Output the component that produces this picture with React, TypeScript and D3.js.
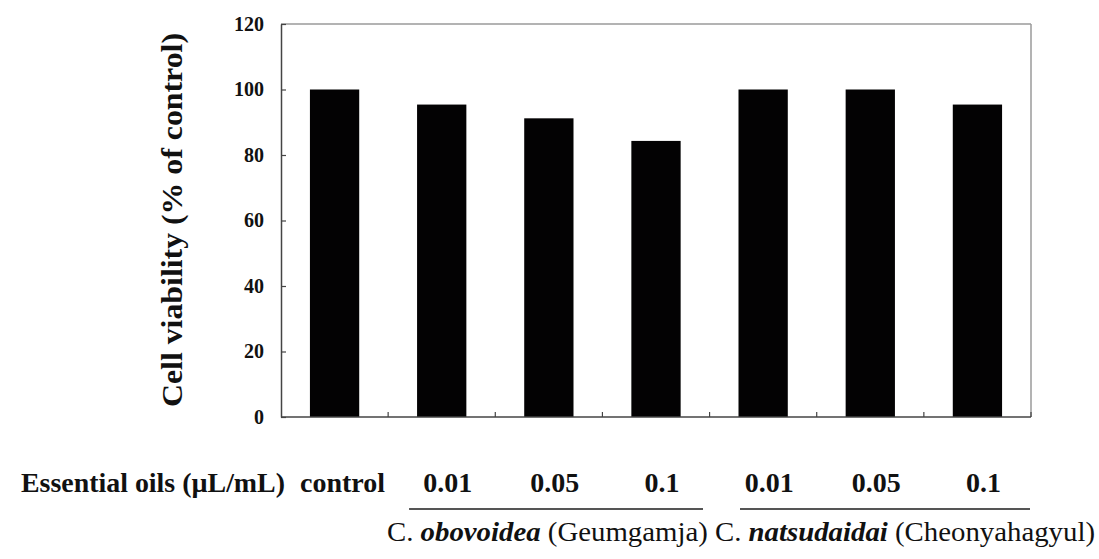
import { useEffect, useRef } from "react";
import * as d3 from "d3";

// Bar labels (concentration) and viability values
const groups = ["control", "Geumgamja 0.01", "Geumgamja 0.05", "Geumgamja 0.1", "Cheonyahagyul 0.01", "Cheonyahagyul 0.05", "Cheonyahagyul 0.1"];
const doseLabels = ["control", "0.01", "0.05", "0.1", "0.01", "0.05", "0.1"];
const viability = [100, 95.4, 91.2, 84.3, 100, 100, 95.4];
const yTicks = [0, 20, 40, 60, 80, 100, 120];

export default function App() {
  const ref = useRef<SVGSVGElement>(null);

  useEffect(() => {
    const svg = d3.select(ref.current);
    svg.selectAll("*").remove();

    const serif = "'Liberation Serif', 'Times New Roman', serif";
    const left = 281;
    const right = 1031;
    const top = 24;
    const bottom = 417;

    const x = d3.scaleBand().domain(groups).range([left, right]).paddingInner(0.54).paddingOuter(0.27);
    const band = d3.scaleBand().domain(groups).range([left, right]);
    const y = d3.scaleLinear().domain([0, 120]).range([bottom, top]);

    // frame: top/right lighter
    svg.append("line").attr("x1", left).attr("x2", right).attr("y1", top).attr("y2", top).attr("stroke", "#9a9a9a").attr("stroke-width", 1.5);
    svg.append("line").attr("x1", right).attr("x2", right).attr("y1", top).attr("y2", bottom).attr("stroke", "#9a9a9a").attr("stroke-width", 1.5);

    // bars
    svg
      .selectAll(".bar")
      .data(viability)
      .enter()
      .append("rect")
      .attr("class", "bar")
      .attr("x", (d, i) => x(groups[i])!)
      .attr("y", (d) => y(d))
      .attr("width", x.bandwidth())
      .attr("height", (d) => bottom - y(d))
      .attr("fill", "#030203");

    // y axis
    const yAxis = svg
      .append("g")
      .attr("transform", `translate(${left},0)`)
      .call(d3.axisLeft(y).tickValues(yTicks).tickSizeInner(-5).tickSizeOuter(0).tickPadding(17));
    yAxis.select(".domain").attr("stroke", "#444").attr("stroke-width", 1.5);
    yAxis.selectAll(".tick line").attr("stroke", "#444").attr("stroke-width", 1.2);
    yAxis
      .selectAll(".tick text")
      .attr("font-family", serif)
      .attr("font-weight", "bold")
      .attr("font-size", 20)
      .attr("fill", "#111");

    // x axis with ticks at band boundaries
    const bounds = groups.slice(1).map((g) => band(g)!).concat([right]);
    svg.append("line").attr("x1", left).attr("x2", right).attr("y1", bottom).attr("y2", bottom).attr("stroke", "#444").attr("stroke-width", 1.5);
    svg
      .selectAll(".xtick")
      .data(bounds)
      .enter()
      .append("line")
      .attr("x1", (d) => d)
      .attr("x2", (d) => d)
      .attr("y1", bottom)
      .attr("y2", bottom - 5)
      .attr("stroke", "#444")
      .attr("stroke-width", 1.2);

    // y title
    svg
      .append("text")
      .attr("transform", `translate(182,${(33 + 407) / 2}) rotate(-90)`)
      .attr("text-anchor", "middle")
      .attr("font-family", serif)
      .attr("font-weight", "bold")
      .attr("font-size", 29)
      .attr("textLength", 374)
      .attr("lengthAdjust", "spacingAndGlyphs")
      .attr("fill", "#111")
      .text("Cell viability  (% of control)");

    // row label + dose labels
    svg
      .append("text")
      .attr("x", 21)
      .attr("y", 492)
      .attr("font-family", serif)
      .attr("font-weight", "bold")
      .attr("font-size", 28)
      .attr("textLength", 264)
      .attr("lengthAdjust", "spacingAndGlyphs")
      .attr("fill", "#111")
      .text("Essential oils (µL/mL)");

    svg
      .selectAll(".dose")
      .data(doseLabels)
      .enter()
      .append("text")
      .attr("class", "dose")
      .attr("x", (d, i) => (i === 0 ? 385 : x(groups[i])! + x.bandwidth() / 2 + 6))
      .attr("y", 492)
      .attr("text-anchor", (d, i) => (i === 0 ? "end" : "middle"))
      .attr("font-family", serif)
      .attr("font-weight", "bold")
      .attr("font-size", 28)
      .attr("fill", "#111")
      .text((d) => d);

    // group underlines
    const spans = [
      [x(groups[1])! - 8, 703],
      [740, 1030],
    ];
    svg
      .selectAll(".under")
      .data(spans)
      .enter()
      .append("line")
      .attr("x1", (d) => d[0])
      .attr("x2", (d) => d[1])
      .attr("y1", 509)
      .attr("y2", 509)
      .attr("stroke", "#555")
      .attr("stroke-width", 2);

    // species line
    const sp = svg
      .append("text")
      .attr("x", 387)
      .attr("y", 541)
      .attr("font-family", serif)
      .attr("font-size", 27)
      .attr("textLength", 708)
      .attr("lengthAdjust", "spacingAndGlyphs")
      .attr("fill", "#111");
    const parts: [string, boolean][] = [
      ["C. ", false],
      ["obovoidea", true],
      [" (Geumgamja) C. ", false],
      ["natsudaidai", true],
      [" (Cheonyahagyul)", false],
    ];
    parts.forEach(([t, it]) => {
      sp.append("tspan")
        .attr("font-style", it ? "italic" : "normal")
        .attr("font-weight", it ? "bold" : "normal")
        .text(t);
    });
  }, []);

  return (
    <svg
      ref={ref}
      width={1099}
      height={559}
      style={{ position: "absolute", left: 0, top: 0, background: "#fff" }}
    />
  );
}
